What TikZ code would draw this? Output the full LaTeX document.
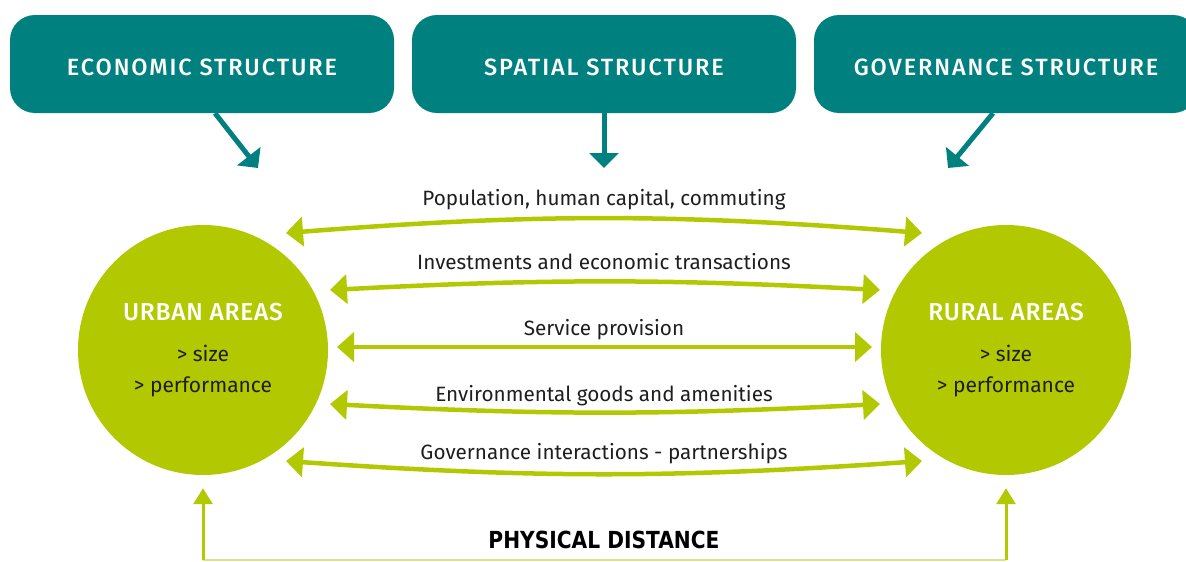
\documentclass[tikz,border=0pt]{standalone}
\usepackage{fontspec}
\setmainfont{Fira Sans}
\newfontfamily\medfont{Fira Sans Medium}
\newfontfamily\pdfont{DejaVu Sans}[FakeStretch=0.86]
\usetikzlibrary{arrows.meta,calc}
\definecolor{eteal}{RGB}{0,129,128}
\definecolor{elime}{RGB}{178,200,0}
\definecolor{elimelight}{RGB}{214,228,140}
\definecolor{etext}{RGB}{30,30,30}
\begin{document}
\begin{tikzpicture}[x=1pt,y=-1pt,
  box/.style={fill=eteal, rounded corners=25pt, minimum width=384pt, minimum height=98pt,
    text=white, inner sep=0pt, text height=23pt, text depth=0pt,
    font=\medfont\fontsize{23.5}{27}\selectfont\addfontfeatures{LetterSpace=8}},
  area/.style={circle, fill=elime, minimum size=250pt, inner sep=0pt, align=center,
    text=etext, font=\fontsize{21}{31}\selectfont},
  tarrow/.style={draw=eteal, line width=5pt, -{Triangle[length=15pt,width=29pt]}},
  garrow/.style={draw=elime, line width=4.5pt,
    {Triangle[length=17pt,width=29pt]}-{Triangle[length=17pt,width=29pt]}},
  varrow/.style={draw=elime, line width=3pt, -{Triangle[length=16pt,width=19pt]}},
  lbl/.style={font=\fontsize{20.7}{24}\selectfont, text=etext, inner sep=0pt}
]
\clip (0,0) rectangle (1186,562);

% top boxes
\node[box] (eco) at (202,64) {ECONOMIC STRUCTURE};
\node[box] (spa) at (604,64) {SPATIAL STRUCTURE};
\node[box] (gov) at (1006,64) {GOVERNANCE STRUCTURE};

% circles
\node[area] (urban) at (203,350) {{\color{white}\medfont\fontsize{24.5}{27}\selectfont\addfontfeatures{LetterSpace=3}URBAN AREAS}\\[10pt] {> size}\\ {> performance}};
\node[area] (rural) at (1006,350) {{\color{white}\medfont\fontsize{24.5}{27}\selectfont\addfontfeatures{LetterSpace=3}RURAL AREAS}\\[10pt] {> size}\\ {> performance}};

% teal arrows
\coordinate (ecoT) at (258,168);
\coordinate (spaT) at (604,168);
\coordinate (govT) at (948,168);
\draw[tarrow] ($(eco.south)+(13,0)$) -- (ecoT);
\draw[tarrow] (spa.south) -- (spaT);
\draw[tarrow] ($(gov.south)+(-13,0)$) -- (govT);

% green link arrows
\coordinate (a1l) at (286,233); \coordinate (a1r) at (922,233);
\coordinate (a2l) at (330,290); \coordinate (a2r) at (880,290);
\coordinate (a3l) at (337,347); \coordinate (a3r) at (872,347);
\coordinate (a4l) at (330,404); \coordinate (a4r) at (880,404);
\coordinate (a5l) at (286,461); \coordinate (a5r) at (922,461);
\draw[garrow] (a1l) to[bend left=4.5] (a1r);
\draw[garrow] (a2l) to[bend left=3] (a2r);
\draw[garrow] (a3l) -- (a3r);
\draw[garrow] (a4l) to[bend right=3] (a4r);
\draw[garrow] (a5l) to[bend right=4] (a5r);

\node[lbl] (l1) at (604,200) {Population, human capital, commuting};
\node[lbl] (l2) at (604,262) {Investments and economic transactions};
\node[lbl] (l3) at (604,330) {Service provision};
\node[lbl] (l4) at (604,396) {Environmental goods and amenities};
\node[lbl] (l5) at (604,454) {Governance interactions - partnerships};

% physical distance
\coordinate (bl) at (203,560);
\coordinate (br) at (1006,560);
\draw[elimelight, line width=2pt] (bl) -- (br);
\draw[varrow, shorten >=13pt] (bl) -- (urban.south);
\draw[varrow, shorten >=13pt] (br) -- (rural.south);
\node[font=\pdfont\bfseries\fontsize{23.5}{26}\selectfont, text=black] (pd) at (604,540) {PHYSICAL DISTANCE};
\end{tikzpicture}
\end{document}
